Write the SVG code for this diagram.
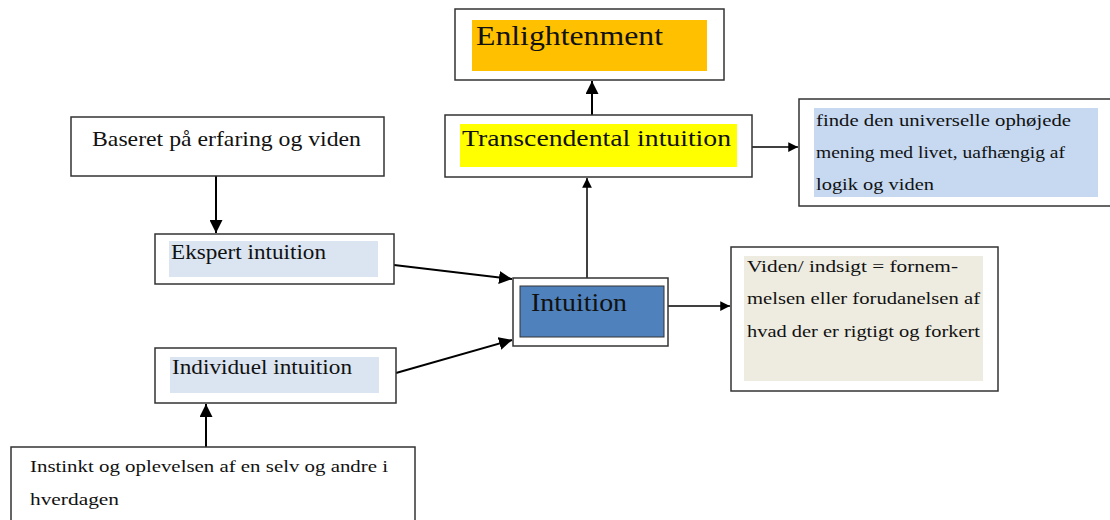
<svg xmlns="http://www.w3.org/2000/svg" width="1110" height="520" viewBox="0 0 1110 520">
<style>
.box{fill:#fff;stroke:#333;stroke-width:1.5}
.t{font-family:"Liberation Serif","Times New Roman",serif;fill:#111}
.c{stroke:#000;stroke-width:2;fill:none}
</style>
<defs>
<marker id="ah" viewBox="0 0 10 10" refX="10" refY="5" markerWidth="6.5" markerHeight="6.5" markerUnits="strokeWidth" orient="auto">
<path d="M0,0 L10,5 L0,10 z" fill="#000"/>
</marker>
</defs>
<rect width="1110" height="520" fill="#fff"/>
<g id="connectors">
<line class="c" x1="592" y1="115" x2="592" y2="81" marker-end="url(#ah)"/>
<line class="c" x1="587" y1="278" x2="587" y2="178" marker-end="url(#ah)" style="stroke-width:1.5"/>
<line class="c" x1="752" y1="147" x2="798" y2="147" marker-end="url(#ah)" style="stroke-width:1.5"/>
<line class="c" x1="216" y1="176" x2="216" y2="233" marker-end="url(#ah)"/>
<line class="c" x1="394" y1="265" x2="512" y2="279" marker-end="url(#ah)"/>
<line class="c" x1="396" y1="373" x2="512" y2="340" marker-end="url(#ah)"/>
<line class="c" x1="668" y1="306" x2="730" y2="306" marker-end="url(#ah)" style="stroke-width:1.5"/>
<line class="c" x1="206" y1="447" x2="206" y2="404" marker-end="url(#ah)"/>
</g>
<g id="enlightenment">
<rect class="box" x="455" y="9" width="269" height="71"/>
<rect x="472" y="20" width="235" height="51" fill="#ffc000"/>
<text class="t" x="476" y="45" font-size="28" textLength="187" lengthAdjust="spacingAndGlyphs">Enlightenment</text>
</g>
<g id="transcendental">
<rect class="box" x="445" y="115" width="307" height="62"/>
<rect x="460" y="124" width="277" height="43" fill="#ffff00"/>
<text class="t" x="462" y="146" font-size="24" textLength="269" lengthAdjust="spacingAndGlyphs">Transcendental intuition</text>
</g>
<g id="finde">
<rect class="box" x="799" y="99" width="316" height="107"/>
<rect x="814" y="108" width="284" height="89" fill="#c6d9f1"/>
<text class="t" x="816" y="126" font-size="17" textLength="255" lengthAdjust="spacingAndGlyphs">finde den universelle ophøjede</text>
<text class="t" x="816" y="158" font-size="17" textLength="249" lengthAdjust="spacingAndGlyphs">mening med livet, uafhængig af</text>
<text class="t" x="816" y="190" font-size="17" textLength="118" lengthAdjust="spacingAndGlyphs">logik og viden</text>
</g>
<g id="baseret">
<rect class="box" x="71" y="117" width="313" height="59"/>
<text class="t" x="92" y="146" font-size="22" textLength="269" lengthAdjust="spacingAndGlyphs">Baseret på erfaring og viden</text>
</g>
<g id="ekspert">
<rect class="box" x="155" y="234" width="239" height="50"/>
<rect x="169" y="241" width="209" height="36" fill="#dbe5f1"/>
<text class="t" x="171" y="259" font-size="20" textLength="155" lengthAdjust="spacingAndGlyphs">Ekspert intuition</text>
</g>
<g id="intuition">
<rect class="box" x="513" y="278" width="155" height="68"/>
<rect x="520" y="286" width="144" height="51" fill="#4f81bd" stroke="#333" stroke-width="1"/>
<text class="t" x="531" y="311" font-size="25" textLength="96" lengthAdjust="spacingAndGlyphs">Intuition</text>
</g>
<g id="viden">
<rect class="box" x="731" y="247" width="267" height="144"/>
<rect x="744" y="256" width="239" height="125" fill="#eeece1"/>
<text class="t" x="747" y="272" font-size="17" textLength="211" lengthAdjust="spacingAndGlyphs">Viden/ indsigt = fornem-</text>
<text class="t" x="747" y="304" font-size="17" textLength="233" lengthAdjust="spacingAndGlyphs">melsen eller forudanelsen af</text>
<text class="t" x="747" y="337" font-size="17" textLength="233" lengthAdjust="spacingAndGlyphs">hvad der er rigtigt og forkert</text>
</g>
<g id="individuel">
<rect class="box" x="155" y="348" width="241" height="55"/>
<rect x="170" y="357" width="209" height="36" fill="#dbe5f1"/>
<text class="t" x="172" y="374" font-size="20" textLength="180" lengthAdjust="spacingAndGlyphs">Individuel intuition</text>
</g>
<g id="instinkt">
<rect class="box" x="11" y="447" width="404" height="80"/>
<text class="t" x="30" y="472" font-size="17" textLength="358" lengthAdjust="spacingAndGlyphs">Instinkt og oplevelsen af en selv  og andre i</text>
<text class="t" x="30" y="505" font-size="17" textLength="89" lengthAdjust="spacingAndGlyphs">hverdagen</text>
</g>
</svg>
